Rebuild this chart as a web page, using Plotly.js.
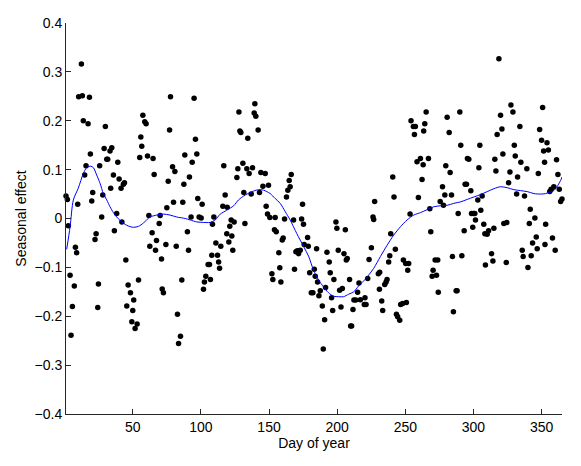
<!DOCTYPE html>
<html>
<head>
<meta charset="utf-8">
<script src="https://cdn.plot.ly/plotly-3.0.1.min.js"></script>
<style>html,body{margin:0;padding:0;background:#fff;}#chart{width:581px;height:466px;}</style>
</head>
<body>
<div id="chart"></div>
<script>
// Observed seasonal effects (day of year, value)
const obsDays = [
1.0,2.0,2.7,4.0,4.7,5.7,7.1,7.9,8.8,9.6,10.3,12.3,13.0,13.7,14.7,15.7,17.2,18.2,18.9,19.9,20.6,22.3,23.1,24.3,24.8,25.7,27.2,28.0,29.0,29.9,30.9,31.6,33.3,34.6,33.8,35.8,36.5,38.2,39.0,40.0,
41.4,43.1,43.9,42.0,44.9,46.6,48.3,45.6,50.7,50.0,49.3,53.2,51.7,54.2,55.1,55.9,56.6,57.4,58.8,59.8,60.8,61.8,62.5,64.2,64.9,65.7,66.7,67.4,69.4,70.1,71.1,71.6,72.5,74.3,75.0,76.0,77.0,77.7,79.2,79.9,80.9,81.9,82.8,83.6,85.0,86.0,86.7,87.5,88.2,
90.1,90.9,91.6,92.8,93.6,95.0,96.0,97.0,97.7,98.7,100.2,100.9,101.9,102.6,103.6,105.3,106.3,107.0,108.0,108.5,109.5,111.0,112.2,113.0,113.7,114.6,116.1,116.8,117.8,119.0,119.3,120.5,121.2,122.2,122.7,123.4,124.4,126.4,127.1,127.9,128.6,129.3,130.8,131.5,132.3,
133.7,134.4,135.4,136.9,137.9,139.1,139.6,140.3,142.0,143.0,144.0,145.5,147.2,147.9,148.9,149.6,150.6,152.1,152.8,154.0,154.5,155.3,157.2,157.9,158.7,159.7,160.4,161.4,162.8,163.8,164.8,165.5,166.3,168.0,168.7,169.7,170.7,171.7,172.9,173.9,174.6,175.3,175.8,
178.3,178.8,179.8,181.0,182.2,183.2,183.9,184.9,185.6,186.6,187.6,189.1,189.8,190.8,191.5,192.5,194.2,194.9,195.9,196.7,197.6,199.1,199.8,200.8,201.8,202.8,203.8,205.0,206.0,206.7,207.4,209.1,209.9,210.6,211.6,212.3,213.6,215.0,216.0,217.0,
219.9,220.4,221.2,222.4,223.4,225.1,226.3,226.8,227.5,230.2,231.0,231.2,232.7,233.4,234.9,235.9,236.6,237.8,238.6,239.3,240.8,241.7,242.7,243.5,244.4,245.9,246.6,248.1,248.6,250.3,250.8,251.8,252.5,253.5,254.2,255.9,256.7,257.4,258.6,259.6,
261.1,262.3,263.1,263.5,264.3,265.3,267.0,268.0,268.7,269.7,270.4,271.9,272.9,273.8,274.2,275.6,277.3,278.0,279.0,279.7,280.7,282.2,282.9,283.9,284.6,285.3,287.3,288.0,288.8,290.0,290.7,291.5,293.2,293.9,294.9,295.6,296.6,298.1,298.6,299.5,300.0,301.0,301.5,303.2,304.0,304.7,305.4,306.4,307.6,308.4,308.8,
310.1,311.1,313.3,314.3,315.0,315.7,316.5,317.4,318.7,319.9,320.9,321.6,322.3,324.1,324.5,325.8,326.8,327.5,329.0,330.0,330.7,331.7,332.4,334.1,334.8,335.8,336.5,337.5,339.2,340.0,341.0,341.7,342.4,343.4,345.1,346.1,346.8,347.6,348.6,350.0,350.8,351.5,352.2,352.5,353.0,
354,355,356,357,358,359,360,361,362,363,364,365
];
const obsValues = [
0.046,0.039,-0.015,-0.116,-0.239,-0.18,-0.138,-0.059,-0.07,0.029,0.249,0.316,0.251,0.2,0.089,0.108,0.194,0.248,0.132,0.036,0.053,-0.043,-0.031,-0.182,-0.134,0.108,0.003,0.048,0.143,0.188,0.121,0.121,0.138,0.145,0.062,0.089,-0.025,0.01,0.115,0.081,
0.062,0.07,0.073,-0.007,-0.085,-0.136,-0.152,-0.179,-0.167,-0.188,-0.211,-0.216,-0.225,-0.126,0.125,0.167,0.148,0.211,0.198,0.194,0.128,0.006,-0.057,-0.029,0.123,0.09,-0.065,-0.045,-0.01,0.006,-0.083,-0.144,-0.152,-0.053,0.022,0.076,0.181,0.249,0.106,0.033,0.096,-0.057,-0.196,-0.256,-0.241,-0.126,0.033,0.07,0.13,
-0.027,-0.065,0.085,0.003,0.115,0.246,0.162,0.132,0.041,0.003,0.001,0.029,-0.145,-0.13,-0.118,-0.094,-0.094,-0.125,-0.075,-0.012,0.003,-0.05,-0.075,-0.089,-0.102,-0.057,0.025,0.108,0.048,-0.031,0.023,-0.048,-0.016,-0.003,-0.036,-0.065,-0.007,0.084,0.102,0.218,0.179,0.176,0.113,0.053,-0.01,
0.102,0.164,0.092,0.05,0.104,0.216,0.235,0.209,0.181,0.053,0.094,0.066,0.092,0.025,0.009,0.068,0.002,-0.113,-0.125,-0.023,0.002,-0.027,-0.07,-0.101,-0.13,-0.044,-0.04,-0.001,0.044,0.058,0.078,0.065,0.09,-0.003,-0.104,-0.068,-0.066,-0.072,-0.065,-0.001,0.029,-0.012,-0.053,
-0.039,-0.057,-0.111,-0.152,-0.152,-0.104,-0.118,-0.062,-0.13,-0.158,-0.148,-0.179,-0.267,-0.207,-0.141,-0.069,-0.089,-0.111,-0.162,-0.188,-0.125,-0.007,-0.02,-0.065,-0.147,-0.181,-0.143,-0.072,-0.023,-0.085,-0.082,-0.125,-0.22,-0.22,-0.186,-0.167,-0.167,-0.151,-0.132,-0.166,
-0.176,-0.162,-0.176,-0.123,-0.084,-0.06,0.003,-0.002,0.035,-0.113,-0.145,-0.11,-0.169,-0.188,-0.135,-0.13,-0.125,-0.089,-0.076,-0.031,0.085,0.044,-0.063,-0.196,-0.201,-0.208,-0.176,-0.174,-0.085,-0.092,-0.172,-0.106,-0.092,0.009,0.2,0.188,0.172,0.188,0.116,0.043,
0.123,0.08,0.11,0.179,0.194,0.218,0.123,0.02,-0.027,-0.118,-0.106,-0.085,-0.116,-0.085,-0.151,0.035,0.065,0.027,0.048,0.108,0.207,0.176,0.094,0.048,-0.078,-0.191,-0.148,-0.148,0.01,0.218,0.15,-0.076,-0.025,0.07,0.07,0.123,0.121,0.057,0.01,-0.018,0.01,0.01,-0.003,0.038,0.104,0.15,0.017,0.046,-0.012,-0.031,-0.095,
-0.032,-0.025,-0.072,-0.087,-0.02,0.121,0.097,0.172,0.327,0.211,0.183,0.132,-0.01,-0.09,-0.008,0.073,0.095,0.232,0.218,0.15,0.128,0.05,0.085,0.188,0.115,-0.065,-0.078,0.046,0.102,-0.1,-0.01,0.019,-0.076,-0.05,0.001,-0.038,-0.062,0.092,0.182,0.16,0.227,0.138,0.115,-0.053,-0.012,
0.155,0.14,0.055,0.06,-0.04,0.065,-0.065,0.12,0.09,0.06,0.035,0.04
];

// Smoothed seasonal curve
const fitDays = [1.5,4,6.4,10,13.7,16.2,19.1,21.1,23.5,26,28.4,30.9,33.3,35.8,38.2,40.7,45.6,50.5,54.2,57.9,62.7,67.6,72.5,77.4,82.3,88.5,92.1,97,101.9,106.8,110.5,114.2,119,124,127.6,132.5,138.6,142.3,146,150.8,154.5,158.2,161.9,165.5,170.4,175.3,179,182.7,186.4,190,193.7,197.4,201.1,204.7,208.4,212.1,215.8,220.7,226.8,231.7,236.6,241.5,246.4,251.3,256.2,261.1,266,270.9,275.8,280.7,285.6,290.5,295.4,300.3,305.2,310.1,315,319.9,324.8,329.7,334.6,339.5,344.4,349.3,353,356,358,360,362,364,365];
const fitValues = [-0.063,-0.017,0.038,0.062,0.092,0.104,0.107,0.104,0.089,0.072,0.051,0.038,0.024,0.012,0.003,-0.004,-0.014,-0.018,-0.016,-0.009,0.003,0.007,0.009,0.007,0.003,0.0,-0.003,-0.007,-0.008,-0.008,-0.003,0.009,0.017,0.026,0.038,0.048,0.056,0.059,0.058,0.051,0.041,0.031,0.014,-0.003,-0.031,-0.057,-0.077,-0.106,-0.126,-0.14,-0.152,-0.159,-0.16,-0.16,-0.155,-0.15,-0.138,-0.124,-0.102,-0.078,-0.055,-0.034,-0.017,-0.003,0.007,0.012,0.018,0.024,0.026,0.027,0.031,0.034,0.039,0.044,0.049,0.055,0.061,0.065,0.063,0.059,0.057,0.055,0.051,0.05,0.051,0.054,0.055,0.06,0.068,0.078,0.085];

const xTicks = [50,100,150,200,250,300,350];
const yTicks = [-0.4,-0.3,-0.2,-0.1,0,0.1,0.2,0.3,0.4];

const font = {family: '"Liberation Sans", Arial, Helvetica, sans-serif', size: 14, color: '#000'};

Plotly.newPlot('chart', [
  {x: obsDays, y: obsValues, type: 'scatter', mode: 'markers', cliponaxis: false,
   marker: {color: '#000', size: 5.5, line: {width: 0}}, hoverinfo: 'x+y'},
  {x: fitDays, y: fitValues, type: 'scatter', mode: 'lines', cliponaxis: false,
   line: {color: '#0000ff', width: 1, shape: 'spline', smoothing: 0.8}}
], {
  width: 581, height: 466,
  margin: {l: 66, r: 19, t: 23, b: 52},
  paper_bgcolor: '#fff', plot_bgcolor: '#fff',
  showlegend: false,
  font: font,
  xaxis: {
    range: [1, 365], tickmode: 'array', tickvals: xTicks, ticktext: xTicks.map(String),
    ticks: 'inside', ticklen: 5, tickcolor: '#262626', tickwidth: 1,
    showline: true, linecolor: '#262626', linewidth: 1, showgrid: false, zeroline: false,
    title: {text: 'Day of year', font: font, standoff: 4},
    tickfont: font
  },
  yaxis: {
    range: [-0.4, 0.4], tickmode: 'array', tickvals: yTicks,
    ticktext: yTicks.map(v => v === 0 ? '0' : (v < 0 ? '\u2212' + Math.abs(v).toFixed(1) : v.toFixed(1))),
    ticks: 'inside', ticklen: 5, tickcolor: '#262626', tickwidth: 1,
    showline: true, linecolor: '#262626', linewidth: 1, showgrid: false, zeroline: false,
    title: {text: 'Seasonal effect', font: font, standoff: 4},
    tickfont: font
  }
}, {displayModeBar: false, staticPlot: true});
</script>
</body>
</html>
